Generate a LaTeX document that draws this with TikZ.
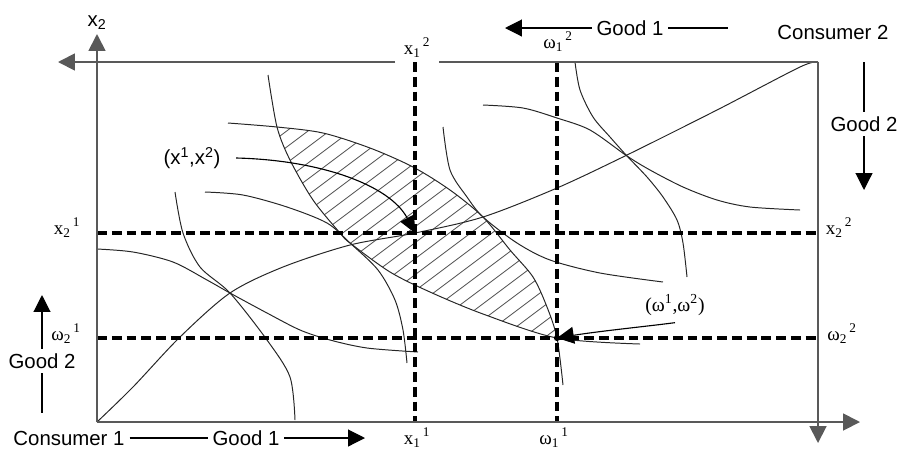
\documentclass[tikz,border=0pt]{standalone}
\usepackage{fontspec}
\setmainfont{Liberation Serif}
\setsansfont{Liberation Sans}
\usetikzlibrary{arrows.meta,calc}
\newcommand{\idx}[3]{#1\textsubscript{#2}\hspace{1.5pt}\textsuperscript{#3}}

\begin{document}
\begin{tikzpicture}[
  x=0.025cm, y=-0.025cm,
  every node/.style={font=\sffamily\fontsize{14.5}{17}\selectfont},
  >={Triangle[length=12pt,width=12pt]},
  axis/.style={draw=black!65, line width=1.3pt},
  curve/.style={black!85, line width=0.7pt, smooth},
  guide/.style={line width=2.3pt, dash pattern=on 7pt off 3.5pt},
  hatch/.style={black!70, line width=0.55pt},
  pointer/.style={line width=0.8pt},
  lbl/.style={font=\rmfamily\fontsize{13.5}{16}\selectfont, inner sep=1pt, anchor=base}
]
\useasboundingbox (0,0) rectangle (905,450);

% origins and the two allocations
\coordinate (O1) at (97,422);
\coordinate (O2) at (818,62);
\coordinate (xone) at (415,233);
\coordinate (omega) at (557,338);

% hatched lens between the two curves through omega
\begin{scope}
  \clip plot[smooth] coordinates {(268,75) (277,127) (290,160) (313,200) (340,233) (350,243) (390,272) (430,292) (483,314) (557,338) (640,344)}
    -- (860,344) -- (860,40) -- (268,40) -- cycle;
  \clip plot[smooth] coordinates {(228,123) (277,127) (323,133) (370,148) (413,167) (450,190) (483,217) (510,250) (533,277) (547,307) (557,338) (563,385)}
    -- (563,440) -- (80,440) -- (80,123) -- cycle;
  \foreach \c in {330,346,...,778}
    \draw[hatch] (0,\c) -- ({\c/0.75},0);
\end{scope}

% contract curve
\draw[curve] plot coordinates {(97,422) (133,387) (180,337) (230,293) (283,267) (350,245) (415,233) (483,217) (557,188) (627,155) (717,110) (800,67) (818,62)};

% consumer 1
\draw[curve] plot coordinates {(97,249) (133,252) (173,262) (207,280) (230,293) (267,313) (300,330) (330,340) (367,348) (418,352)};
\draw[curve] plot coordinates {(268,75) (277,127) (290,160) (313,200) (340,233) (350,243) (390,272) (430,292) (483,314) (557,338) (640,344)};
\draw[curve] plot coordinates {(443,127) (450,170) (467,197) (483,217) (517,243) (550,260) (600,273) (663,282)};
\draw[curve] plot coordinates {(483,105) (523,108) (557,118) (590,130) (627,156) (650,170) (683,187) (717,200) (750,207) (800,210)};

% consumer 2
\draw[curve] plot coordinates {(175,192) (183,233) (200,267) (230,293) (267,340) (290,377) (295,420)};
\draw[curve] plot coordinates {(205,192) (243,195) (287,207) (327,223) (350,243) (378,270) (395,300) (403,330) (407,363)};
\draw[curve] plot coordinates {(228,123) (277,127) (323,133) (370,148) (413,167) (450,190) (483,217) (510,250) (533,277) (547,307) (557,338) (563,385)};
\draw[curve] plot coordinates {(575,62) (580,90) (593,117) (610,137) (627,156) (647,177) (663,197) (677,220) (683,243) (687,277)};

% dashed guides
\draw[guide] (xone |- O2) -- (xone |- O1);
\draw[guide] (omega |- O2) -- (omega |- O1);
\draw[guide] (O1 |- xone) -- (O2 |- xone);
\draw[guide] (O1 |- omega) -- (O2 |- omega);

% guide labels
\node[lbl, inner xsep=6pt] (x12) at (417,54) {\idx{x}{1}{2}};
\node[lbl] (w12) at (558,48) {\idx{ω}{1}{2}};
\node[lbl] (x11) at (417,444) {\idx{x}{1}{1}};
\node[lbl] (w11) at (554,444) {\idx{ω}{1}{1}};
\node[lbl] (x21) at (67,234) {\idx{x}{2}{1}};
\node[lbl] (w21) at (66,340) {\idx{ω}{2}{1}};
\node[lbl] (x22) at (839,234) {\idx{x}{2}{2}};
\node[lbl] (w22) at (842,340) {\idx{ω}{2}{2}};
\node[anchor=base] (xtwo) at (97,26) {x\textsubscript{2}};

% axes
\coordinate (topTip) at (58,62);
\coordinate (upTip) at (97,34);
\coordinate (rightTip) at (860,422);
\coordinate (downTip) at (818,443);
\draw[axis,->] (O1) -- (upTip);
\draw[axis,->] (O1) -- (rightTip);
\draw[axis,->] (O2) -- (downTip);
\draw[axis] (O2) -- (x12.east |- O2);
\draw[axis,->] (x12.west |- O2) -- (topTip);

% consumers and goods
\node (cons2) at (833,32) {Consumer 2};
\node (goodT) at (630,28) {Good 1};
\coordinate (goodTtip) at (505,28);
\coordinate (goodTend) at (728,28);
\draw[pointer,->] (goodT) -- (goodTtip);
\draw[pointer] (goodT) -- (goodTend);

\node (goodR) at (864,124) {Good 2};
\coordinate (goodRtop) at (864,62);
\coordinate (goodRtip) at (864,190);
\draw[pointer] (goodRtop) -- (goodR);
\draw[pointer,->] (goodR) -- (goodRtip);

\node (cons1) at (69,438) {Consumer 1};
\node (goodB) at (246,438) {Good 1};
\coordinate (goodBtip) at (365,438);
\draw[pointer] (cons1) -- (goodB);
\draw[pointer,->] (goodB) -- (goodBtip);

\node (goodL) at (42,361) {Good 2};
\coordinate (goodLtip) at (42,295);
\coordinate (goodLend) at (42,413);
\draw[pointer,->] (goodL) -- (goodLtip);
\draw[pointer] (goodL) -- (goodLend);

% allocation labels
\node[inner xsep=11pt] (xlbl) at (192,158) {(x\textsuperscript{1},x\textsuperscript{2})};
\draw[pointer,-{Triangle[length=12pt,width=11pt]}] (xlbl.east) .. controls (320,160) and (390,185) .. (xone);
\node[font=\rmfamily\fontsize{14}{16}\selectfont, inner ysep=5pt] (wlbl) at (675,305) {(ω\textsuperscript{1},ω\textsuperscript{2})};
\draw[pointer,->] (wlbl.south) .. controls (650,326) and (600,331) .. (omega);
\fill (omega) circle[radius=2.2pt];

\end{tikzpicture}
\end{document}
